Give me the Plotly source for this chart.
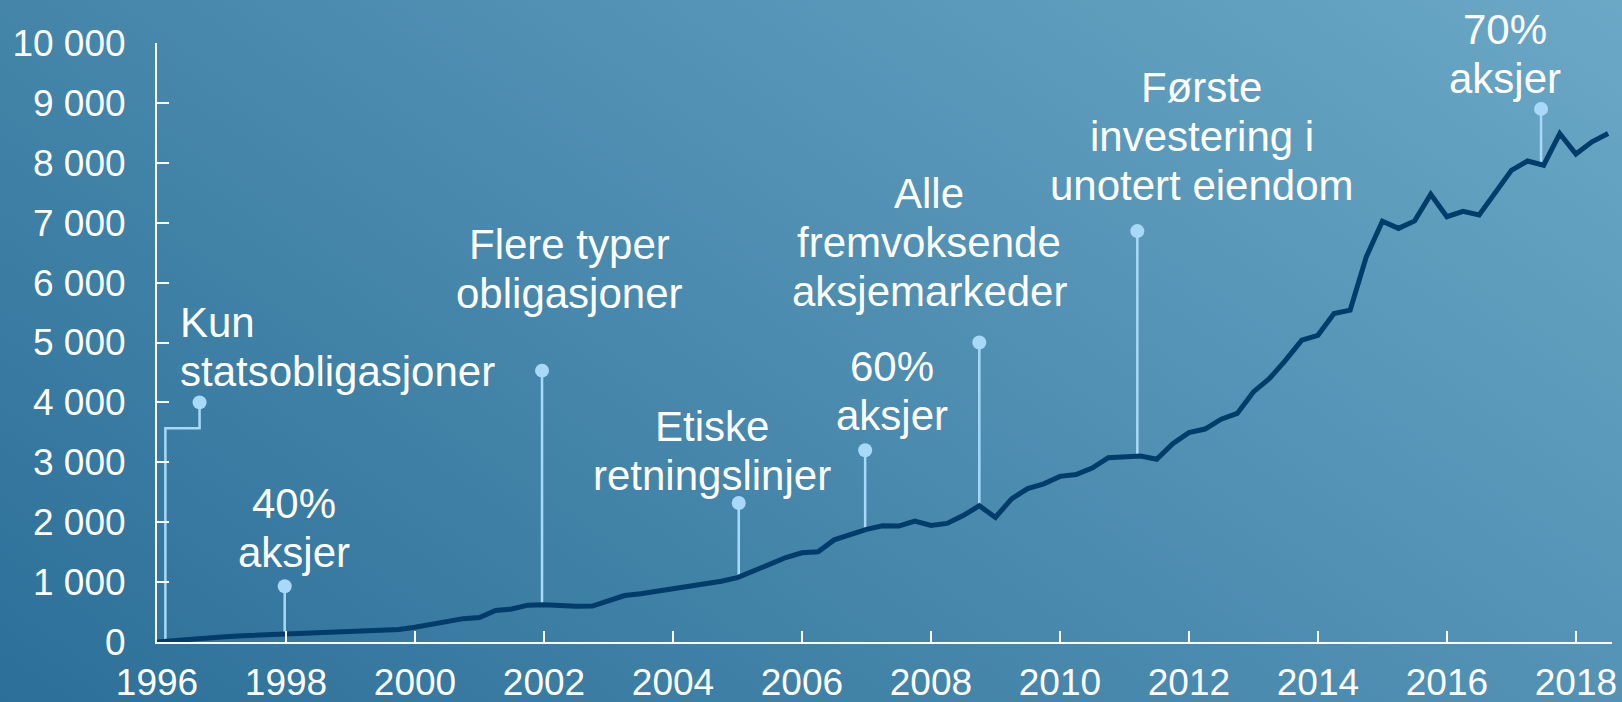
import base64
import numpy as np
import plotly.graph_objects as go

# fund market value, billion NOK, one value per quarter from Q1 1996
start_year = 1996
values = [
    0, 25, 55, 70,
    85, 100, 110, 118,
    122, 130, 140, 165,
    172, 178, 190, 210,
    245, 290, 345, 390,
    410, 525, 550, 615,
    620, 600, 598, 600,
    680, 775, 805, 845,
    900, 938, 985, 1015,
    1075, 1185, 1290, 1410,
    1490, 1505, 1705, 1790,
    1880, 1940, 1935, 2020,
    1945, 1980, 2110, 2275,
    2080, 2390, 2560, 2640,
    2765, 2795, 2905, 3077,
    3095, 3105, 3050, 3312,
    3495, 3555, 3720, 3816,
    4175, 4400, 4705, 5038,
    5120, 5485, 5540, 6431,
    7025, 6905, 7030, 7475,
    7100, 7190, 7130, 7510,
    7875, 8030, 7960, 8488,
    8145, 8350, 8490,
]
quarters = start_year + np.arange(len(values)) * 0.25

x_ticks = list(range(1996, 2019, 2))
y_ticks = list(range(0, 10001, 1000))
y_tick_text = ["0", "1 000", "2 000", "3 000", "4 000", "5 000",
               "6 000", "7 000", "8 000", "9 000", "10 000"]

# milestones
labels = [
    ["Kun", "statsobligasjoner"],
    ["40%", "aksjer"],
    ["Flere typer", "obligasjoner"],
    ["Etiske", "retningslinjer"],
    ["60%", "aksjer"],
    ["Alle", "fremvoksende", "aksjemarkeder"],
    ["Første", "investering i", "unotert eiendom"],
    ["70%", "aksjer"],
]
event_x = [1996.66, 1997.98, 2001.97, 2005.02, 2006.98, 2008.75, 2011.2, 2017.46]
event_top = [4000, 930, 4530, 2320, 3200, 5000, 6860, 8900]
# first milestone has a bent leader starting at the fund's start
kun_stem_x = 1996.13
kun_elbow = 3570

# where the text blocks sit (x, y of block centre, anchor)
label_pos = [
    (1996.32, 4920, "left"),
    (1998.12, 1910, "center"),
    (2002.40, 6228, "center"),
    (2004.60, 3196, "center"),
    (2007.40, 4188, "center"),
    (2007.97, 6665, "center"),
    (2012.20, 8445, "center"),
    (2016.90, 9823, "center"),
]

W, H = 1622, 702
ml, mr, mt, mb = 157, 10, 43, 60
pw, ph = W - ml - mr, H - mt - mb

dot_col = "#a9d9f8"
line_col = "#013c6a"
font_fam = "Liberation Sans, Arial, sans-serif"

svg = f"""<svg xmlns="http://www.w3.org/2000/svg" width="{W}" height="{H}" viewBox="0 0 {W} {H}" preserveAspectRatio="none">
<defs><linearGradient id="g" gradientUnits="userSpaceOnUse" x1="0" y1="{H}" x2="871" y2="-531">
<stop offset="0" stop-color="#2c6f98"/><stop offset="1" stop-color="#6ba8c6"/></linearGradient></defs>
<rect width="{W}" height="{H}" fill="url(#g)"/></svg>"""
bg_uri = "data:image/svg+xml;base64," + base64.b64encode(svg.encode()).decode()

fig = go.Figure()

# leader lines
for i, (ex, top) in enumerate(zip(event_x, event_top)):
    if i == 0:
        xs = [kun_stem_x, kun_stem_x, ex, ex]
        ys = [np.interp(kun_stem_x, quarters, values), kun_elbow, kun_elbow, top]
    else:
        xs = [ex, ex]
        ys = [np.interp(ex, quarters, values), top]
    fig.add_trace(go.Scatter(x=xs, y=ys, mode="lines",
                             line=dict(color=dot_col, width=2.5),
                             hoverinfo="skip", showlegend=False))

fig.add_trace(go.Scatter(x=quarters, y=values, mode="lines",
                         line=dict(color=line_col, width=5),
                         showlegend=False))

fig.add_trace(go.Scatter(x=event_x, y=event_top, mode="markers",
                         marker=dict(color=dot_col, size=14),
                         cliponaxis=False, hoverinfo="skip", showlegend=False))

line_gap = 49
for lines, (lx, ly, anchor) in zip(labels, label_pos):
    n = len(lines)
    for j, txt in enumerate(lines):
        fig.add_annotation(x=lx, y=ly, text=txt, showarrow=False,
                           xanchor=anchor, yanchor="middle",
                           yshift=((n - 1) / 2 - j) * line_gap,
                           font=dict(family=font_fam, size=42, color="white"))

fig.add_layout_image(source=bg_uri, xref="paper", yref="paper",
                     x=-ml / pw, y=1 + mt / ph, sizex=W / pw, sizey=H / ph,
                     xanchor="left", yanchor="top", sizing="stretch",
                     layer="below")

axis_common = dict(showgrid=False, zeroline=False, showline=True,
                   automargin=False,
                   linecolor="white", linewidth=2, ticks="inside",
                   tickcolor="white", tickwidth=2,
                   tickfont=dict(family=font_fam, size=37, color="white"))

fig.update_layout(
    width=W, height=H,
    margin=dict(l=ml, r=mr, t=mt, b=mb),
    paper_bgcolor="#4a8bb0",
    plot_bgcolor="rgba(0,0,0,0)",
    xaxis=dict(range=[1996, 2018.56], tickvals=x_ticks, ticklen=11,
               ticklabelstandoff=7, **axis_common),
    yaxis=dict(range=[0, 10000], tickvals=y_ticks, ticktext=y_tick_text,
               ticklen=12, ticklabelstandoff=22, **axis_common),
)

# page margin off so the figure fills the window exactly
fig.write_html("out.html", config={"displayModeBar": False},
               post_script="document.body.style.margin='0';document.body.style.overflow='hidden';")
